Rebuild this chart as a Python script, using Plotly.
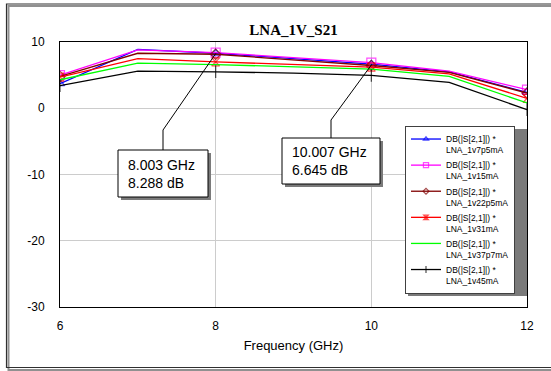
import plotly.graph_objects as go

# ---------------- data ----------------
freq_ghz = [6, 7, 8, 9, 10, 11, 12]

s21_1v7p5mA = [3.7, 8.9, 8.3, 7.5, 6.65, 5.5, 2.4]
s21_1v15mA = [5.0, 8.8, 8.4, 7.7, 6.9, 5.6, 2.8]
s21_1v22p5mA = [4.8, 8.3, 8.15, 7.3, 6.45, 5.4, 2.3]
s21_1v31mA = [4.7, 7.5, 7.0, 6.6, 6.2, 5.2, 1.5]
s21_1v37p7mA = [4.3, 6.8, 6.6, 6.3, 5.9, 4.8, 0.8]
s21_1v45mA = [3.4, 5.6, 5.5, 5.3, 4.95, 3.9, -0.2]

series_names = ["LNA_1v7p5mA", "LNA_1v15mA", "LNA_1v22p5mA",
                "LNA_1v31mA", "LNA_1v37p7mA", "LNA_1v45mA"]
series_values = [s21_1v7p5mA, s21_1v15mA, s21_1v22p5mA,
                 s21_1v31mA, s21_1v37p7mA, s21_1v45mA]

marker_freq = [8.003, 10.007]
marker_db = [8.288, 6.645]

x_ticks = [6, 8, 10, 12]
y_ticks = [-30, -20, -10, 0, 10]

# ---------------- styles ----------------
colors = ["#0000FF", "#FF00FF", "#800000", "#FF0000", "#00FF00", "#000000"]
symbols = ["triangle-up-open", "square-open", "diamond-open",
           "hourglass-open", "circle", "line-ns-open"]
msizes = [8, 9, 8, 8, 0, 9]

W, H = 551, 371
ML, MR, MT, MB = 60, 24, 42, 64
PW, PH = W - ML - MR, H - MT - MB
X0, X1, Y0, Y1 = 6, 12, -30, 10


def px2x(px):
    return X0 + (px - ML) / PW * (X1 - X0)


def py2y(py):
    return Y1 - (py - MT) / PH * (Y1 - Y0)


def pxp(px):
    return (px - ML) / PW


def pyp(py):
    return (MT + PH - py) / PH


fig = go.Figure()

for i, (name, vals, c, sym, ms) in enumerate(zip(series_names, series_values, colors, symbols, msizes)):
    sizes = [ms if k % 2 == 0 else 0 for k in range(len(freq_ghz))]
    fig.add_trace(go.Scatter(
        x=freq_ghz, y=vals, mode="lines+markers" if ms else "lines",
        name="DB(|S[2,1]|) *<br>" + name, legendgroup=f"g{i}",
        line=dict(color=c, width=1.3),
        marker=dict(symbol=sym, size=sizes, color=c, line=dict(color=c, width=1.2)),
    ))

LEG_L, LEG_T, LEG_R, LEG_B = 405, 126, 524, 293

shapes = []
# outer frame with shadow
shapes.append(dict(type="rect", xref="paper", yref="paper",
                   x0=pxp(8.5), x1=pxp(560), y0=pyp(6), y1=pyp(370),
                   line=dict(color="#909090", width=2), fillcolor="rgba(0,0,0,0)", layer="below"))
shapes.append(dict(type="rect", xref="paper", yref="paper",
                   x0=pxp(6.5), x1=pxp(560), y0=pyp(4), y1=pyp(367.5),
                   line=dict(color="#303030", width=1.2), fillcolor="rgba(0,0,0,0)", layer="below"))

# legend shadow
shapes.append(dict(type="rect", xref="paper", yref="paper",
                   x0=pxp(LEG_L + 3), x1=pxp(LEG_R + 3), y0=pyp(LEG_T + 3), y1=pyp(LEG_B + 3),
                   line=dict(width=0), fillcolor="#7a7a7a", layer="above"))

# marker readout boxes
boxes = [(118, 150, 208, 197), (282, 138, 380, 184)]
knees = [(163, 130), (331, 120)]
for (bx0, by0, bx1, by1) in boxes:
    shapes.append(dict(type="rect", xref="paper", yref="paper",
                       x0=pxp(bx0 + 3), x1=pxp(bx1 + 3), y0=pyp(by0 + 3), y1=pyp(by1 + 3),
                       line=dict(width=0), fillcolor="#7a7a7a", layer="above"))
    shapes.append(dict(type="rect", xref="paper", yref="paper",
                       x0=pxp(bx0), x1=pxp(bx1), y0=pyp(by0), y1=pyp(by1),
                       line=dict(color="#000000", width=1), fillcolor="white", layer="above"))
for (mf, md), (kx, ky), (bx0, by0, bx1, by1) in zip(zip(marker_freq, marker_db), knees, boxes):
    shapes.append(dict(type="path", xref="x", yref="y",
                       path=f"M {mf},{md} L {px2x(kx)},{py2y(ky)} L {px2x(kx)},{py2y(by0)}",
                       line=dict(color="#000000", width=1), layer="above"))

annotations = []
for (mf, md), (bx0, by0, bx1, by1) in zip(zip(marker_freq, marker_db), boxes):
    annotations.append(dict(
        xref="paper", yref="paper", x=pxp(bx0 + 8), y=pyp((by0 + by1) / 2),
        xanchor="left", yanchor="middle", align="left", showarrow=False,
        text=f"{mf:.3f} GHz<br>{md:.3f} dB",
        font=dict(family="Liberation Sans, Arial", size=14, color="#000000"),
    ))

fig.update_layout(
    width=W, height=H,
    margin=dict(l=ML, r=MR, t=MT, b=MB),
    paper_bgcolor="white", plot_bgcolor="white",
    title=dict(text="<b>LNA_1V_S21</b>", x=0.5, xref="paper", xanchor="center",
               y=1 - 30 / H, yanchor="middle",
               font=dict(family="Liberation Serif, Times New Roman", size=15, color="#000000")),
    xaxis=dict(range=[X0, X1], tickvals=x_ticks, ticktext=[str(v) for v in x_ticks],
               showgrid=True, gridcolor="#cccccc", gridwidth=1,
               showline=True, linecolor="#000000", linewidth=1, mirror=True,
               ticks="outside", ticklen=8, tickcolor="rgba(0,0,0,0)", zeroline=False,
               tickfont=dict(family="Liberation Sans, Arial", size=12, color="#000000"),
               title=dict(text="Frequency (GHz)", standoff=8,
                          font=dict(family="Liberation Sans, Arial", size=13, color="#000000"))),
    yaxis=dict(range=[Y0, Y1], tickvals=y_ticks, ticktext=[str(v) for v in y_ticks],
               showgrid=True, gridcolor="#cccccc", gridwidth=1,
               showline=True, linecolor="#000000", linewidth=1, mirror=True,
               ticks="outside", ticklen=12, tickcolor="rgba(0,0,0,0)", zeroline=False,
               tickfont=dict(family="Liberation Sans, Arial", size=12, color="#000000")),
    legend=dict(x=pxp(LEG_L), y=pyp(LEG_T), xanchor="left", yanchor="top",
                bgcolor="white", bordercolor="#404040", borderwidth=1,
                itemwidth=30, valign="top", tracegroupgap=1,
                font=dict(family="Liberation Sans, Arial", size=8.5, color="#000000")),
    shapes=shapes,
    annotations=annotations,
    showlegend=True,
)

fig.write_html("out.html", config={"displayModeBar": False},
               post_script="document.body.style.margin='0';document.body.style.overflow='hidden';")
